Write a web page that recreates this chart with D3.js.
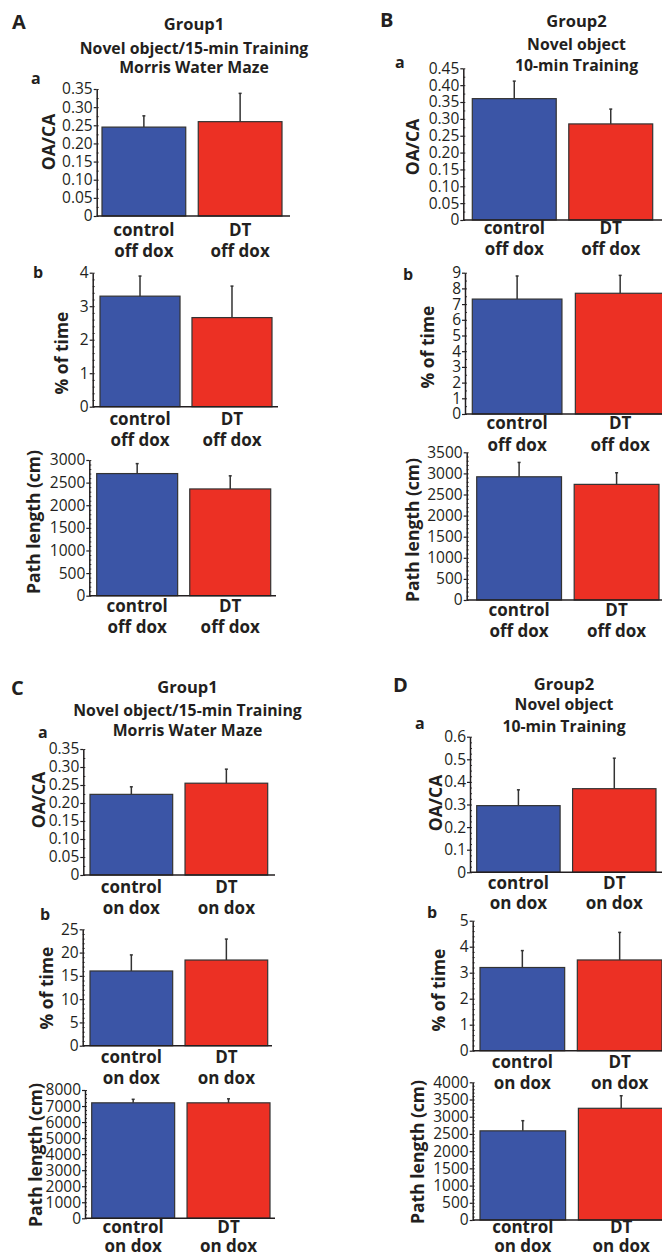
<!DOCTYPE html>
<html>
<head>
<meta charset="utf-8">
<script src="https://cdn.jsdelivr.net/npm/d3@7"></script>
<style>
  body { margin: 0; background: #fff; }
  text { font-family: "Open Sans", "Noto Sans", sans-serif; fill: #231f20; }
</style>
</head>
<body>
<div id="chart"></div>
<script>
// groups on the x axis
const groupNames = ["control", "DT"];
const doxOff = "off dox";
const doxOn = "on dox";

// A: Group1, off dox
const aOACA = [0.245, 0.26];
const aOACAErr = [0.031, 0.078];
const aTime = [3.30, 2.66];
const aTimeErr = [0.60, 0.94];
const aPath = [2700, 2360];
const aPathErr = [220, 290];

// B: Group2, off dox
const bOACA = [0.36, 0.285];
const bOACAErr = [0.052, 0.044];
const bTime = [7.32, 7.69];
const bTimeErr = [1.47, 1.14];
const bPath = [2920, 2740];
const bPathErr = [340, 275];

// C: Group1, on dox
const cOACA = [0.224, 0.255];
const cOACAErr = [0.021, 0.039];
const cTime = [16.05, 18.4];
const cTimeErr = [3.45, 4.5];
const cPath = [7200, 7200];
const cPathErr = [220, 250];

// D: Group2, on dox
const dOACA = [0.295, 0.37];
const dOACAErr = [0.07, 0.135];
const dTime = [3.2, 3.49];
const dTimeErr = [0.65, 1.06];
const dPath = [2590, 3245];
const dPathErr = [295, 365];

// tick values per axis
const ticksOACA35 = [0, 0.05, 0.10, 0.15, 0.20, 0.25, 0.30, 0.35];
const ticksOACA45 = [0, 0.05, 0.10, 0.15, 0.20, 0.25, 0.30, 0.35, 0.40, 0.45];
const ticksOACA6 = [0, 0.1, 0.2, 0.3, 0.4, 0.5, 0.6];
const ticksTime4 = [0, 1, 2, 3, 4];
const ticksTime9 = [0, 1, 2, 3, 4, 5, 6, 7, 8, 9];
const ticksTime25 = [0, 5, 10, 15, 20, 25];
const ticksTime5 = [0, 1, 2, 3, 4, 5];
const ticksPath3000 = [0, 500, 1000, 1500, 2000, 2500, 3000];
const ticksPath3500 = [0, 500, 1000, 1500, 2000, 2500, 3000, 3500];
const ticksPath8000 = [0, 1000, 2000, 3000, 4000, 5000, 6000, 7000, 8000];
const ticksPath4000 = [0, 500, 1000, 1500, 2000, 2500, 3000, 3500, 4000];

const colors = ["#3b55a6", "#ec3024"];

const W = 662, H = 1257;
const svg = d3.select("#chart").append("svg")
    .attr("width", W)
    .attr("height", H);

const fmt2 = d => d === 0 ? "0" : d3.format(".2f")(d);
const fmt1 = d => d === 0 ? "0" : d3.format(".1f")(d);
const fmt0 = d3.format("d");

// panel layout: ax = y axis x, top/bot = pixel of max tick / zero, bl/br = bar span, xe = x axis end
const panels = [
    {vals: aOACA, errs: aOACAErr, ticks: ticksOACA35, minor: 0.025, fmt: fmt2, ylab: "OA/CA", ylx: 49, yly: 142,
     ax: 96.7, top: 89, bot: 216, bl: 102, br: 282, xe: 290, dox: doxOff, l1: 230, gap: 21.5, lab: "a", lx: 31, ly: 84},
    {vals: aTime, errs: aTimeErr, ticks: ticksTime4, minor: 0.2, fmt: fmt0, ylab: "% of time", ylx: 62, yly: 353,
     ax: 92.7, top: 272.7, bot: 406.7, bl: 100, br: 272, xe: 278, dox: doxOff, l1: 419, gap: 21.5, lab: "b", lx: 33, ly: 278},
    {vals: aPath, errs: aPathErr, ticks: ticksPath3000, minor: 100, fmt: fmt0, ylab: "Path length (cm)", ylx: 34, yly: 522,
     ax: 89.3, top: 460, bot: 595.7, bl: 96.7, br: 270.7, xe: 276, dox: doxOff, l1: 606, gap: 21.5},

    {vals: bOACA, errs: bOACAErr, ticks: ticksOACA45, minor: 0.025, fmt: fmt2, ylab: "OA/CA", ylx: 413, yly: 147,
     ax: 463.3, top: 68.3, bot: 220, bl: 472.3, br: 652.7, xe: 662, dox: doxOff, l1: 228, gap: 21.5, lab: "a", lx: 395, ly: 68},
    {vals: bTime, errs: bTimeErr, ticks: ticksTime9, minor: 0.5, fmt: fmt0, ylab: "% of time", ylx: 428, yly: 347,
     ax: 465, top: 272.7, bot: 414, bl: 472.3, br: 665, xe: 670, dox: doxOff, l1: 423, gap: 22, lab: "b", lx: 403, ly: 280},
    {vals: bPath, errs: bPathErr, ticks: ticksPath3500, minor: 100, fmt: fmt0, ylab: "Path length (cm)", ylx: 413, yly: 530,
     ax: 466.7, top: 452.3, bot: 600, bl: 476.7, br: 659, xe: 662, dox: doxOff, l1: 610, gap: 21.5},

    {vals: cOACA, errs: cOACAErr, ticks: ticksOACA35, minor: 0.025, fmt: fmt2, ylab: "OA/CA", ylx: 39, yly: 800,
     ax: 83.3, top: 749, bot: 875, bl: 90, br: 267.7, xe: 275, dox: doxOn, l1: 887, gap: 21, lab: "a", lx: 38, ly: 738},
    {vals: cTime, errs: cTimeErr, ticks: ticksTime25, minor: 1, fmt: fmt0, ylab: "% of time", ylx: 47, yly: 988,
     ax: 82.7, top: 929.3, bot: 1045.7, bl: 90, br: 267.7, xe: 272, dox: doxOn, l1: 1057, gap: 21, lab: "b", lx: 40, ly: 920},
    {vals: cPath, errs: cPathErr, ticks: ticksPath8000, minor: 250, fmt: fmt0, ylab: "Path length (cm)", ylx: 36, yly: 1155,
     ax: 85, top: 1090, bot: 1218.3, bl: 91.7, br: 270, xe: 275, dox: doxOn, l1: 1227, gap: 19.5},

    {vals: dOACA, errs: dOACAErr, ticks: ticksOACA6, minor: 0.025, fmt: fmt1, ylab: "OA/CA", ylx: 436, yly: 803,
     ax: 470, top: 736.7, bot: 872.3, bl: 476.7, br: 656, xe: 662, dox: doxOn, l1: 883, gap: 20.5, lab: "a", lx: 415, ly: 729},
    {vals: dTime, errs: dTimeErr, ticks: ticksTime5, minor: 0.2, fmt: fmt0, ylab: "% of time", ylx: 439, yly: 990,
     ax: 472.7, top: 920.7, bot: 1050.7, bl: 480, br: 662, xe: 662, dox: doxOn, l1: 1062, gap: 21, lab: "b", lx: 427, ly: 918},
    {vals: dPath, errs: dPathErr, ticks: ticksPath4000, minor: 100, fmt: fmt0, ylab: "Path length (cm)", ylx: 418, yly: 1152,
     ax: 472.7, top: 1082.3, bot: 1220, bl: 480, br: 664, xe: 664, dox: doxOn, l1: 1227, gap: 19.5}
];

// headers
const headers = [
    {letter: "A", lx: 12, ly: 29, cx: 194, lines: ["Group1", "Novel object/15-min Training", "Morris Water Maze"], ys: [30, 53.5, 72.5]},
    {letter: "B", lx: 380, ly: 27, cx: 576.5, lines: ["Group2", "Novel object", "10-min Training"], ys: [27, 49.5, 71]},
    {letter: "C", lx: 11, ly: 695, cx: 187.5, lines: ["Group1", "Novel object/15-min Training", "Morris Water Maze"], ys: [692.5, 716, 736]},
    {letter: "D", lx: 393, ly: 692, cx: 564, lines: ["Group2", "Novel object", "10-min Training"], ys: [689.5, 710, 731.5]}
];

headers.forEach(h => {
    svg.append("text")
        .attr("x", h.lx).attr("y", h.ly)
        .attr("font-size", 20).attr("font-weight", 700)
        .text(h.letter);
    h.lines.forEach((t, i) => {
        svg.append("text")
            .attr("x", h.cx).attr("y", h.ys[i])
            .attr("text-anchor", "middle")
            .attr("font-size", i === 0 ? 16.5 : 15.8)
            .attr("font-weight", 700)
            .text(t);
    });
});

panels.forEach(p => {
    const max = p.ticks[p.ticks.length - 1];
    const y = d3.scaleLinear().domain([0, max]).range([p.bot, p.top]);
    const x = d3.scaleBand().domain(groupNames).range([p.bl, p.br]).paddingInner(0.13).paddingOuter(0);
    const g = svg.append("g");

    // bars
    g.selectAll("rect")
        .data(groupNames)
        .enter()
        .append("rect")
        .attr("x", d => x(d))
        .attr("y", (d, i) => y(p.vals[i]))
        .attr("width", x.bandwidth())
        .attr("height", (d, i) => y(0) - y(p.vals[i]))
        .attr("fill", (d, i) => colors[i])
        .attr("stroke", "#333")
        .attr("stroke-width", 1.2);

    // error bars (upper only)
    groupNames.forEach((d, i) => {
        const cx = x(d) + x.bandwidth() / 2;
        g.append("line")
            .attr("x1", cx).attr("x2", cx)
            .attr("y1", y(p.vals[i])).attr("y2", y(p.vals[i] + p.errs[i]))
            .attr("stroke", "#333").attr("stroke-width", 1.5);
        g.append("line")
            .attr("x1", cx - 1.5).attr("x2", cx + 1.5)
            .attr("y1", y(p.vals[i] + p.errs[i])).attr("y2", y(p.vals[i] + p.errs[i]))
            .attr("stroke", "#333").attr("stroke-width", 1.5);
    });

    // minor ticks on the inside
    const minorVals = d3.range(0, max + p.minor / 2, p.minor);
    g.append("g")
        .attr("transform", `translate(${p.ax},0)`)
        .call(d3.axisRight(y).tickValues(minorVals).tickSize(2).tickSizeOuter(0).tickFormat(""))
        .call(s => s.select(".domain").remove())
        .selectAll("line").attr("stroke", "#333");

    // y axis
    const yAxis = g.append("g")
        .attr("transform", `translate(${p.ax},0)`)
        .call(d3.axisLeft(y).tickValues(p.ticks).tickSize(3).tickSizeOuter(0).tickFormat(p.fmt).tickPadding(1));
    yAxis.select(".domain").attr("stroke", "#231f20").attr("stroke-width", 1.5);
    yAxis.selectAll(".tick line").attr("stroke", "#231f20").attr("stroke-width", 1.2);
    yAxis.selectAll(".tick text")
        .attr("font-size", 15.5)
        .attr("fill", "#231f20")
        .style("font-family", "'Open Sans', sans-serif");

    // x axis line
    g.append("line")
        .attr("x1", p.ax).attr("x2", p.xe)
        .attr("y1", y(0)).attr("y2", y(0))
        .attr("stroke", "#231f20").attr("stroke-width", 1.5);

    // x labels
    groupNames.forEach(d => {
        const cx = x(d) + x.bandwidth() / 2;
        [d, p.dox].forEach((t, k) => {
            g.append("text")
                .attr("x", cx).attr("y", p.l1 + k * p.gap)
                .attr("dy", "0.35em")
                .attr("text-anchor", "middle")
                .attr("font-size", 17)
                .attr("font-weight", 700)
                .text(t);
        });
    });

    // y label
    g.append("text")
        .attr("transform", `translate(${p.ylx},${p.yly}) rotate(-90)`)
        .attr("dy", "0.35em")
        .attr("text-anchor", "middle")
        .attr("font-size", 17.5)
        .attr("font-weight", 700)
        .text(p.ylab);

    // sub-panel letter
    if (p.lab) {
        g.append("text")
            .attr("x", p.lx).attr("y", p.ly)
            .attr("font-size", 16)
            .attr("font-weight", 700)
            .text(p.lab);
    }
});
</script>
</body>
</html>
